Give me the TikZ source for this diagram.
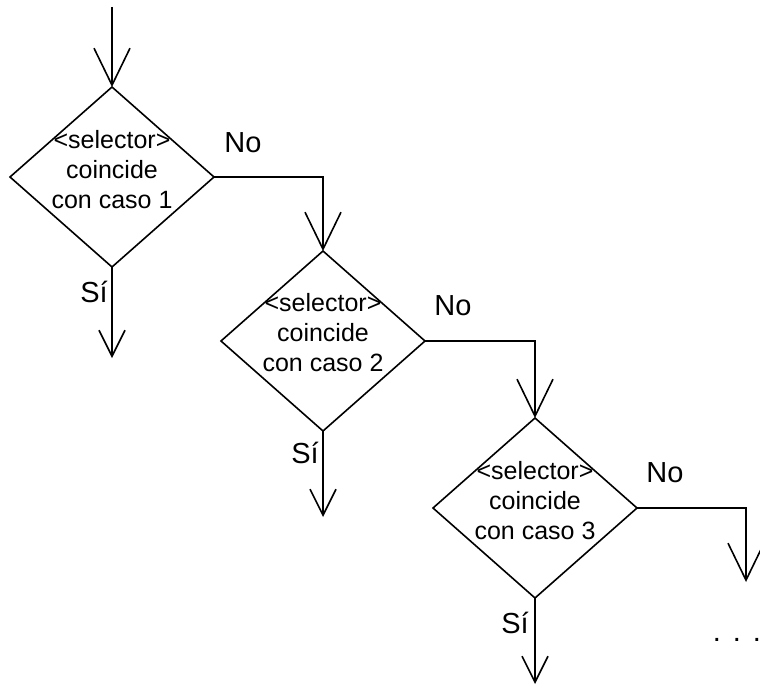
\documentclass[tikz,border=0pt]{standalone}
\usepackage{fontspec}
\setmainfont{Liberation Sans}
\usetikzlibrary{shapes.geometric,arrows.meta}

\begin{document}
\begin{tikzpicture}[x=1pt,y=-1pt,
  line width=1.6pt,
  decision/.style={draw, shape=diamond, minimum width=204pt, minimum height=180pt,
                   inner sep=0pt, outer sep=0pt},
  dectext/.style={align=center, inner sep=0pt, font=\fontsize{25}{30}\selectfont},
  branch/.style={inner sep=0pt, font=\fontsize{29}{34}\selectfont},
  flowlong/.style={-{Straight Barb[length=37pt,width=36pt,line join=miter]}},
  flowshort/.style={-{Straight Barb[length=26pt,width=26pt,line join=miter]}}]

  \useasboundingbox (0,0) rectangle (760,685);

  % three chained decisions
  \node[decision] (d1) at (112,177) {};
  \node[decision] (d2) at (323,341) {};
  \node[decision] (d3) at (535,508) {};

  \node[dectext] (t1) at (112,170) {<selector>\\coincide\\con caso 1};
  \node[dectext] (t2) at (323,333) {<selector>\\coincide\\con caso 2};
  \node[dectext] (t3) at (535,501) {<selector>\\coincide\\con caso 3};

  % free ends of the connectors
  \coordinate (in) at (112,7);
  \coordinate (y1) at (112,358);
  \coordinate (y2) at (323,517);
  \coordinate (y3) at (535,684);
  \coordinate (n3) at (746,582);

  % incoming flow
  \draw[flowlong] (in) -- (d1.north);

  % "No" branches
  \draw[flowlong] (d1.east) -| (d2.north);
  \draw[flowlong] (d2.east) -| (d3.north);
  \draw[flowlong] (d3.east) -| (n3);

  % "Sí" branches
  \draw[flowshort] (d1.south) -- (y1);
  \draw[flowshort] (d2.south) -- (y2);
  \draw[flowshort] (d3.south) -- (y3);

  % branch labels
  \node[branch] (no1) at (243,143) {No};
  \node[branch] (no2) at (453,306) {No};
  \node[branch] (no3) at (665,473) {No};
  \node[branch] (si1) at (94,292) {Sí};
  \node[branch] (si2) at (305,453) {Sí};
  \node[branch] (si3) at (515,623) {Sí};

  % continuation
  \node[branch, anchor=base west] (more) at (712,641) {.\hspace{12pt}.\hspace{12pt}.};
\end{tikzpicture}
\end{document}
